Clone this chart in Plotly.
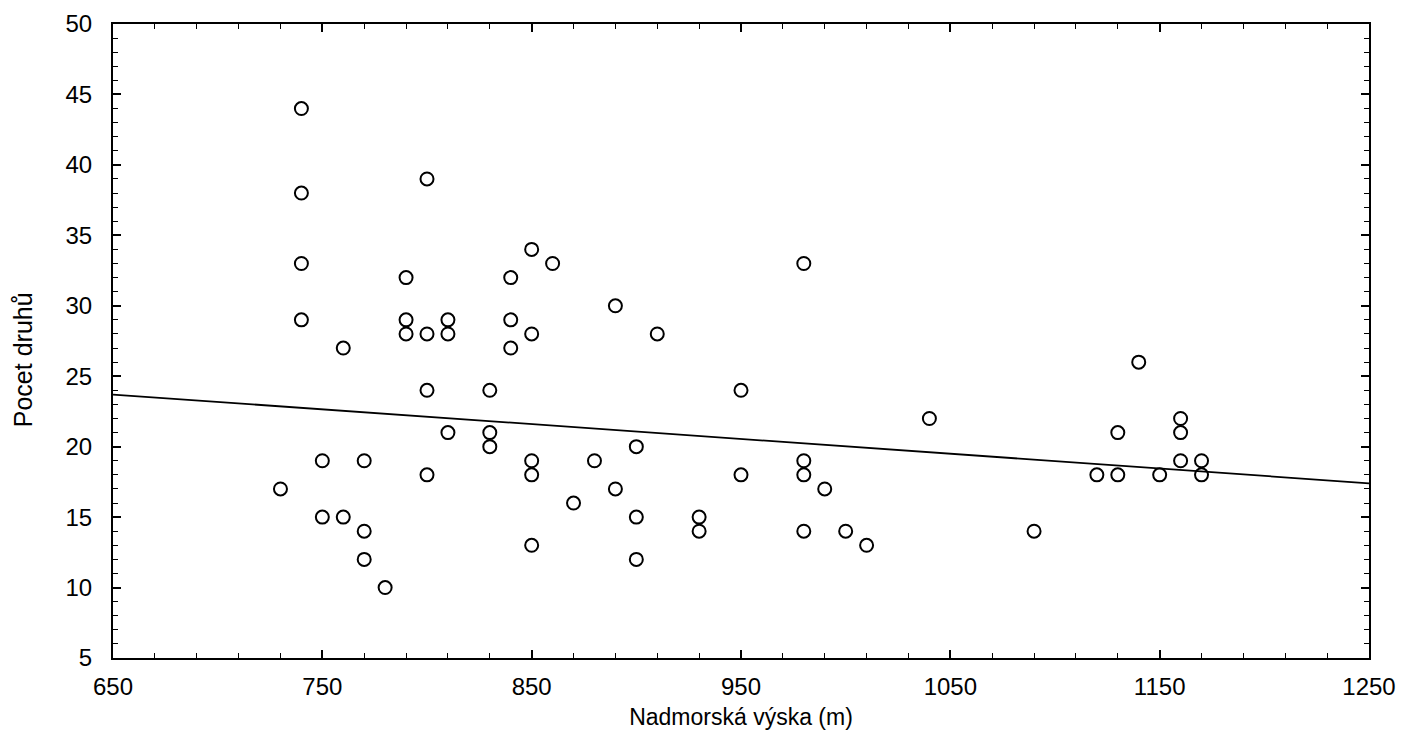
import plotly.graph_objects as go

# Altitude (m) and species count
altitude = [730, 740, 740, 740, 740, 750, 750, 760, 760, 770, 770, 770, 780,
            790, 790, 790, 800, 800, 800, 800, 810, 810, 810, 830, 830, 830,
            840, 840, 840, 850, 850, 850, 850, 850, 860, 870, 880, 890, 890,
            900, 900, 900, 910, 930, 930, 950, 950, 980, 980, 980, 980, 990,
            1000, 1010, 1040, 1090, 1120, 1130, 1130, 1140, 1150, 1160, 1160,
            1160, 1170, 1170]
species = [17, 44, 38, 33, 29, 19, 15, 27, 15, 19, 14, 12, 10,
           32, 29, 28, 39, 28, 24, 18, 29, 28, 21, 24, 21, 20,
           32, 29, 27, 34, 28, 19, 18, 13, 33, 16, 19, 30, 17,
           20, 15, 12, 28, 15, 14, 24, 18, 33, 19, 18, 14, 17,
           14, 13, 22, 14, 18, 21, 18, 26, 18, 22, 21,
           19, 19, 18]

# Trend line as drawn in the picture (value at each end of the x range)
trend_x = [650, 1250]
trend_y = [23.7, 17.4]

x_range = [650, 1250]
y_range = [5, 50]
x_ticks = [650, 750, 850, 950, 1050, 1150, 1250]
y_ticks = [5, 10, 15, 20, 25, 30, 35, 40, 45, 50]

FONT = "Liberation Sans, Arial, sans-serif"

fig = go.Figure()
fig.add_trace(go.Scatter(
    x=trend_x, y=trend_y, mode="lines",
    line=dict(color="black", width=1.8), showlegend=False, hoverinfo="skip"))
fig.add_trace(go.Scatter(
    x=altitude, y=species, mode="markers",
    marker=dict(symbol="circle-open", size=13, color="black",
                line=dict(color="black", width=2)),
    showlegend=False))

axis_common = dict(
    showgrid=False, zeroline=False, showline=True, linecolor="black",
    linewidth=2, mirror="allticks", ticks="inside", ticklen=8,
    tickwidth=1.5, tickcolor="black",
    tickfont=dict(family=FONT, size=24, color="black"),
)

fig.update_xaxes(
    range=x_range, tickvals=x_ticks, **axis_common,
    ticklabelstandoff=6,
    minor=dict(ticks="inside", ticklen=5, tickcolor="black", dtick=20,
               tick0=650, tickwidth=1.2),
    title=dict(text="Nadmorská výska (m)", standoff=10,
               font=dict(family=FONT, size=23, color="black")),
)
fig.update_yaxes(
    range=y_range, tickvals=y_ticks, **axis_common,
    ticklabelstandoff=14,
    minor=dict(ticks="inside", ticklen=5, tickcolor="black", dtick=1,
               tick0=5, tickwidth=1.2),
)

fig.add_annotation(
    text="Pocet druhů", textangle=-90, showarrow=False,
    xref="paper", yref="paper", x=-0.0715, y=0.47,
    xanchor="center", yanchor="middle",
    font=dict(family=FONT, size=25, color="black"),
)

fig.update_layout(
    width=1393, height=731,
    paper_bgcolor="white", plot_bgcolor="white",
    margin=dict(l=105, r=32, t=16, b=81, autoexpand=False),
)

fig.write_html("out.html")
